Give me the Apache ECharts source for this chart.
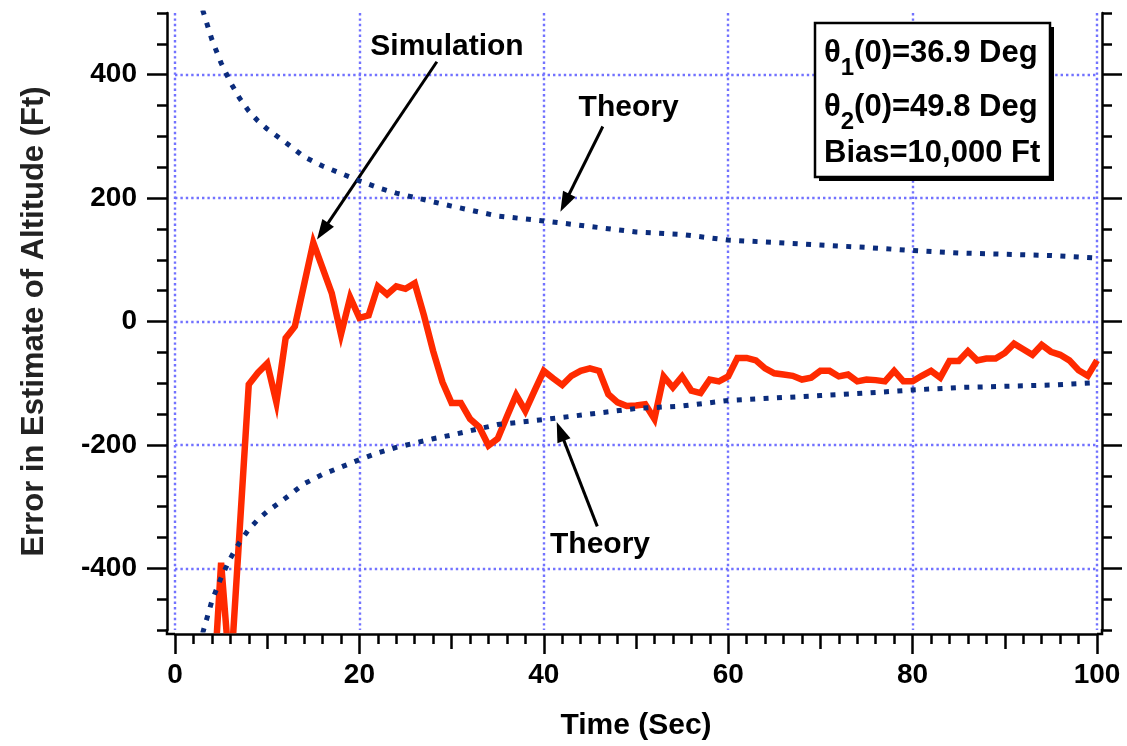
<!DOCTYPE html>
<html>
<head>
<meta charset="utf-8">
<script src="https://cdn.jsdelivr.net/npm/echarts@6/dist/echarts.min.js"></script>
<style>
  html, body { margin: 0; padding: 0; background: #ffffff; }
  #chart { width: 1127px; height: 746px; }
</style>
</head>
<body>
<div id="chart"></div>
<script>
// Simulated altitude-estimate error, sampled once per second (ft)
const simTime = [
  4, 5, 6, 7, 8, 9, 10, 11, 12, 13, 14, 15, 16, 17, 18, 19, 20, 21, 22, 23,
  24, 25, 26, 27, 28, 29, 30, 31, 32, 33, 34, 35, 36, 37, 38, 39, 40, 41, 42, 43,
  44, 45, 46, 47, 48, 49, 50, 51, 52, 53, 54, 55, 56, 57, 58, 59, 60, 61, 62, 63,
  64, 65, 66, 67, 68, 69, 70, 71, 72, 73, 74, 75, 76, 77, 78, 79, 80, 81, 82, 83,
  84, 85, 86, 87, 88, 89, 90, 91, 92, 93, 94, 95, 96, 97, 98, 99, 100
];
const simError = [
  -640, -391, -580, -341, -102, -83, -68, -131, -27, -8, 60, 128, 87, 46, -21, 39, 6, 10, 57, 44,
  57, 53, 62, 10, -48, -98, -132, -132, -158, -171, -201, -190, -154, -119, -145, -112, -80, -92, -103, -88,
  -80, -76, -80, -118, -131, -137, -136, -134, -158, -89, -107, -89, -112, -116, -94, -97, -89, -59, -59, -63,
  -76, -84, -86, -88, -94, -91, -80, -80, -89, -86, -97, -94, -95, -97, -80, -97, -97, -88, -80, -91,
  -64, -64, -48, -63, -60, -60, -51, -36, -45, -54, -38, -49, -54, -63, -79, -88, -63
];

// Theoretical one-sigma bounds of the estimate error (ft)
const theoryTime = [
  3, 4, 5, 6, 7, 8, 9, 10, 12, 14, 16, 18, 20, 22, 24, 26, 28, 30,
  35, 40, 45, 50, 55, 60, 65, 70, 75, 80, 85, 90, 95, 100
];
const theoryUpper = [
  505, 457, 419, 388, 362, 341, 325, 312, 290, 267, 252, 240, 228, 217, 208, 201, 194, 187,
  171, 163, 154, 145, 141, 132, 128, 124, 120, 115, 111, 109, 107, 103
];
const theoryLower = [
  -505, -453, -415, -384, -358, -337, -321, -308, -286, -263, -248, -236, -224, -213, -204, -197, -190, -184,
  -167, -159, -150, -141, -137, -128, -124, -120, -116, -111, -107, -105, -103, -99
];

// Axis tick values
const yMajorTicks = [-400, -200, 0, 200, 400];

const FONT = 'Liberation Sans, Arial, Helvetica, sans-serif';
const GRID_COLOR = '#7272ff';
const SIM_COLOR = '#ff2a00';
const THEORY_COLOR = '#0b2c7c';

const pairs = (xs, ys) => xs.map((x, i) => [x, ys[i]]);

const chart = echarts.init(document.getElementById('chart'), null, { renderer: 'canvas' });

const dotted = { color: GRID_COLOR, width: 2.4, type: [2.4, 3] };
const axisStroke = { color: '#000', width: 2.5 };

chart.setOption({
  animation: false,
  backgroundColor: '#ffffff',
  grid: { left: 175, right: 30, top: 13, bottom: 112, containLabel: false },
  xAxis: [
    {
      type: 'value', min: 0, max: 100, interval: 20, position: 'bottom', offset: 4,
      axisLine: { show: true, onZero: false, lineStyle: axisStroke },
      axisTick: { show: true, length: 20, lineStyle: axisStroke },
      minorTick: { show: true, splitNumber: 10, length: 10, lineStyle: axisStroke },
      axisLabel: { show: true, margin: 27, color: '#000', fontSize: 28, fontWeight: 'bold', fontFamily: FONT },
      splitLine: { show: true, lineStyle: dotted },
      name: 'Time (Sec)', nameLocation: 'middle', nameGap: 77,
      nameTextStyle: { color: '#000', fontSize: 30, fontWeight: 'bold', fontFamily: FONT }
    },
    {
      type: 'value', min: 0, max: 100, interval: 10, position: 'bottom', offset: 4,
      axisLine: { show: false, onZero: false },
      axisTick: { show: true, length: 15, lineStyle: axisStroke },
      axisLabel: { show: false }, splitLine: { show: false }
    }
  ],
  yAxis: [
    {
      type: 'value', min: -500, max: 500, position: 'left', offset: 8,
      axisLine: { show: true, onZero: false, lineStyle: axisStroke },
      axisTick: { show: true, length: 20, lineStyle: axisStroke, customValues: yMajorTicks },
      axisLabel: { show: true, margin: 30, color: '#000', fontSize: 28, fontWeight: 'bold', fontFamily: FONT,
        customValues: yMajorTicks },
      splitLine: { show: true, lineStyle: dotted },
      name: 'Error in Estimate of Altitude (Ft)', nameLocation: 'middle', nameGap: 117, nameRotate: 90,
      nameTextStyle: { color: '#222', fontSize: 31, fontWeight: 'bold', fontFamily: FONT }
    },
    {
      type: 'value', min: -500, max: 500, interval: 50, position: 'left', offset: 8,
      axisLine: { show: false, onZero: false },
      axisTick: { show: true, length: 10, lineStyle: axisStroke },
      axisLabel: { show: false }, splitLine: { show: false }
    },
    {
      type: 'value', min: -500, max: 500, interval: 50, position: 'right', offset: 5,
      axisLine: { show: true, onZero: false, lineStyle: axisStroke },
      axisTick: { show: true, length: 10, lineStyle: axisStroke },
      axisLabel: { show: false }, splitLine: { show: false }
    },
    {
      type: 'value', min: -500, max: 500, position: 'right', offset: 5,
      axisLine: { show: false, onZero: false },
      axisTick: { show: true, length: 20, lineStyle: axisStroke, customValues: yMajorTicks },
      axisLabel: { show: false, customValues: yMajorTicks }, splitLine: { show: false }
    }
  ],
  series: [
    {
      name: 'Simulation', type: 'line', xAxisIndex: 0, yAxisIndex: 0,
      data: pairs(simTime, simError), showSymbol: false, symbol: 'none', clip: true,
      lineStyle: { color: SIM_COLOR, width: 6.5, join: 'miter' }, z: 3
    },
    {
      name: 'Theory', type: 'line', xAxisIndex: 0, yAxisIndex: 0,
      data: pairs(theoryTime, theoryUpper), showSymbol: false, symbol: 'none', clip: true,
      lineStyle: { color: THEORY_COLOR, width: 5, type: [5, 8.4], cap: 'butt' }, z: 4
    },
    {
      name: 'Theory', type: 'line', xAxisIndex: 0, yAxisIndex: 0,
      data: pairs(theoryTime, theoryLower), showSymbol: false, symbol: 'none', clip: true,
      lineStyle: { color: THEORY_COLOR, width: 5, type: [5, 8.4], cap: 'butt' }, z: 4
    }
  ]
});

// Annotations: text labels with arrows pointing at data locations (time, error)
const notes = [
  { text: 'Simulation', at: [29.5, 445], tail: [28.4, 421], tip: [15.4, 133] },
  { text: 'Theory', at: [49.2, 347], tail: [46.4, 316], tip: [41.8, 178] },
  { text: 'Theory', at: [46.1, -361], tail: [45.8, -332], tip: [41.4, -163] }
];

const toPx = (p) => chart.convertToPixel({ seriesIndex: 0 }, p);

function arrow(tail, tip) {
  const dx = tip[0] - tail[0], dy = tip[1] - tail[1];
  const len = Math.hypot(dx, dy);
  const ux = dx / len, uy = dy / len;
  const headLen = 20, headW = 7;
  const base = [tip[0] - ux * headLen, tip[1] - uy * headLen];
  const left = [base[0] - uy * headW, base[1] + ux * headW];
  const right = [base[0] + uy * headW, base[1] - ux * headW];
  return [
    { type: 'line', silent: true,
      shape: { x1: tail[0], y1: tail[1], x2: base[0] + ux * 3, y2: base[1] + uy * 3 },
      style: { stroke: '#000', lineWidth: 3 } },
    { type: 'polygon', silent: true, shape: { points: [tip, left, right] }, style: { fill: '#000' } }
  ];
}

const graphics = [];
notes.forEach((n) => {
  const c = toPx(n.at);
  graphics.push({
    type: 'text', silent: true, x: c[0], y: c[1],
    style: { text: n.text, font: 'bold 30px ' + FONT, fill: '#000', align: 'center', verticalAlign: 'middle' }
  });
  arrow(toPx(n.tail), toPx(n.tip)).forEach((g) => graphics.push(g));
});

// Initial-condition box in the upper right corner
const measure = document.createElement('canvas').getContext('2d');
function textWidth(str, font) { measure.font = font; return measure.measureText(str).width; }

const mainFont = 'bold 31px ' + FONT;
const subFont = 'bold 24px ' + FONT;
const box = { x: 815, y: 23, w: 235, h: 154 };
graphics.push({ type: 'rect', silent: true, shape: { x: box.x + 4, y: box.y + 4, width: box.w, height: box.h },
  style: { fill: '#000' } });
graphics.push({ type: 'rect', silent: true, shape: { x: box.x, y: box.y, width: box.w, height: box.h },
  style: { fill: '#fff', stroke: '#000', lineWidth: 2.5 } });

const boxLines = [
  { head: 'θ', sub: '1', rest: '(0)=36.9 Deg', y: 53 },
  { head: 'θ', sub: '2', rest: '(0)=49.8 Deg', y: 107 },
  { head: 'Bias=10,000 Ft', sub: '', rest: '', y: 153 }
];
const textX = box.x + 9;
boxLines.forEach((ln) => {
  let x = textX;
  graphics.push({ type: 'text', silent: true, x: x, y: ln.y,
    style: { text: ln.head, font: mainFont, fill: '#000', align: 'left', verticalAlign: 'middle' } });
  x += textWidth(ln.head, mainFont);
  if (ln.sub) {
    graphics.push({ type: 'text', silent: true, x: x, y: ln.y + 15,
      style: { text: ln.sub, font: subFont, fill: '#000', align: 'left', verticalAlign: 'middle' } });
    x += textWidth(ln.sub, subFont);
  }
  if (ln.rest) {
    graphics.push({ type: 'text', silent: true, x: x, y: ln.y,
      style: { text: ln.rest, font: mainFont, fill: '#000', align: 'left', verticalAlign: 'middle' } });
  }
});

// Close the frame corners where the offset axes meet
const bl = toPx([0, -500]);
const br = toPx([100, -500]);
graphics.push({ type: 'polyline', silent: true,
  shape: { points: [[bl[0] - 8, bl[1] - 1], [bl[0] - 8, bl[1] + 4], [bl[0], bl[1] + 4]] },
  style: { stroke: '#000', lineWidth: 2.5, fill: null } });
graphics.push({ type: 'polyline', silent: true,
  shape: { points: [[br[0], br[1] + 4], [br[0] + 5, br[1] + 4], [br[0] + 5, br[1] - 1]] },
  style: { stroke: '#000', lineWidth: 2.5, fill: null } });

chart.setOption({ graphic: graphics });
</script>
</body>
</html>
